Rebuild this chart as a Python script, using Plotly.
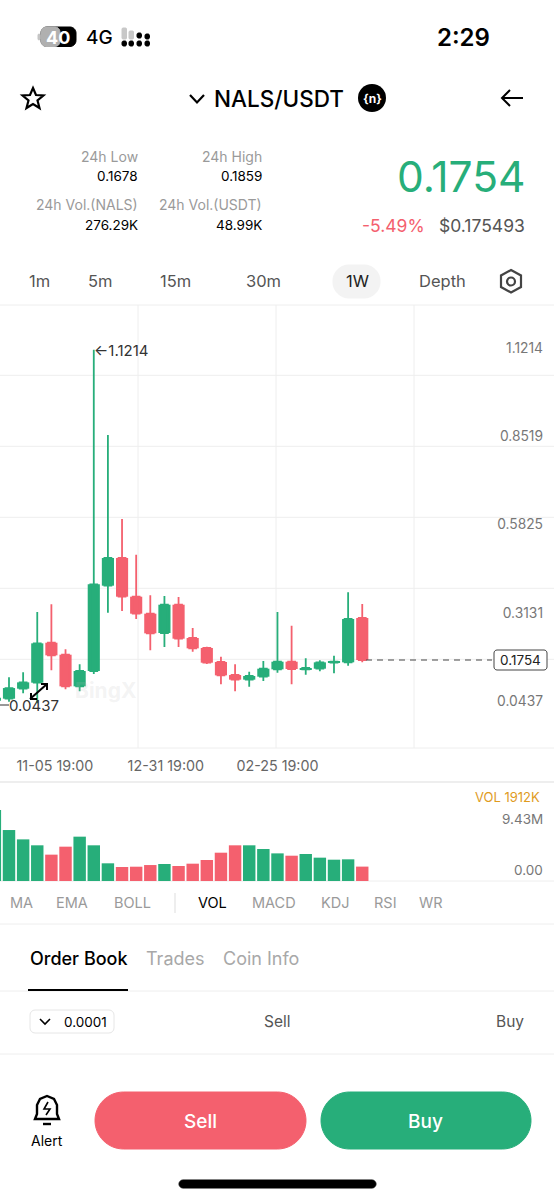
import plotly.graph_objects as go

W, H = 554, 1200
GREEN = "#27ae7a"
RED = "#f4606e"
GRID = "#eeeeee"
FONT = "Inter"

# Weekly candles
candle_idx = list(range(-1, 26))
opens = [0.0513, 0.0574, 0.0879, 0.1062, 0.2282, 0.1916, 0.0950, 0.1418, 0.4021, 0.4865,
         0.3685, 0.3167, 0.2577, 0.3441, 0.2425, 0.2120, 0.1693, 0.1296, 0.1154, 0.1245,
         0.1469, 0.1703, 0.1469, 0.1489, 0.1672, 0.1683, 0.3035]
highs = [0.0737, 0.1225, 0.1378, 0.3218, 0.3452, 0.2079, 0.1621, 1.1214, 0.8616, 0.6054,
         0.4966, 0.3726, 0.3706, 0.3675, 0.2730, 0.2160, 0.1855, 0.1621, 0.1398, 0.1723,
         0.3218, 0.2801, 0.1804, 0.1744, 0.1886, 0.3818, 0.3462]
lows = [0.0450, 0.0483, 0.0737, 0.0437, 0.1439, 0.0859, 0.0798, 0.1327, 0.3197, 0.3248,
        0.3004, 0.2049, 0.2150, 0.2150, 0.2008, 0.1632, 0.1011, 0.0798, 0.0940, 0.1113,
        0.1368, 0.1011, 0.1306, 0.1408, 0.1347, 0.1581, 0.1683]
closes = [0.0605, 0.0899, 0.1072, 0.2262, 0.1896, 0.0950, 0.1418, 0.4062, 0.4865, 0.3685,
          0.3167, 0.2567, 0.3441, 0.2404, 0.2110, 0.1672, 0.1286, 0.1154, 0.1266, 0.1489,
          0.1703, 0.1479, 0.1510, 0.1683, 0.1703, 0.3004, 0.1754]
volumes = [9.43, 6.77, 5.53, 4.74, 3.50, 4.56, 5.89, 4.74, 2.35, 1.86, 1.90, 2.12, 2.26,
           1.99, 2.30, 2.79, 3.76, 4.74, 4.74, 4.25, 3.67, 3.36, 3.59, 3.10, 2.83, 2.88, 1.912]
date_ticks = [3.25, 11.1, 19]
date_labels = ["11-05 19:00", "12-31 19:00", "02-25 19:00"]
price_ticks = [1.1214, 0.8519, 0.5825, 0.3131, 0.0437]
last_price = 0.1754


def px(x):
    return x / W


def py(y):
    return 1 - y / H


def path(*pts, close=False, **kw):
    d = "M" + " L".join(f"{px(x):.5f},{py(y):.5f}" for x, y in pts)
    if close:
        d += " Z"
    return dict(type="path", path=d, xref="paper", yref="paper", **kw)


def line(x0, y0, x1, y1, color=GRID, width=1, layer="below", dash=None):
    return dict(type="line", xref="paper", yref="paper", x0=px(x0), x1=px(x1),
                y0=py(y0), y1=py(y1), layer=layer,
                line=dict(color=color, width=width, dash=dash))


def rrect(x0, y0, x1, y1, r, fill, border=None):
    k = r * 0.45
    d = (f"M{px(x0 + r)},{py(y0)} L{px(x1 - r)},{py(y0)} "
         f"C{px(x1 - k)},{py(y0)} {px(x1)},{py(y0 + k)} {px(x1)},{py(y0 + r)} "
         f"L{px(x1)},{py(y1 - r)} "
         f"C{px(x1)},{py(y1 - k)} {px(x1 - k)},{py(y1)} {px(x1 - r)},{py(y1)} "
         f"L{px(x0 + r)},{py(y1)} "
         f"C{px(x0 + k)},{py(y1)} {px(x0)},{py(y1 - k)} {px(x0)},{py(y1 - r)} "
         f"L{px(x0)},{py(y0 + r)} "
         f"C{px(x0)},{py(y0 + k)} {px(x0 + k)},{py(y0)} {px(x0 + r)},{py(y0)} Z")
    return dict(type="path", path=d, xref="paper", yref="paper", fillcolor=fill,
                line=dict(color=border or fill, width=1), layer="above")


def txt(x, y, s, size=14, color="#000000", anchor="center", weight=400, **kw):
    if anchor == "right":
        x += 1  # annotations keep about a pixel of padding
    return dict(x=px(x), y=py(y), xref="paper", yref="paper", text=s, showarrow=False,
                xanchor=anchor, yanchor="middle", borderpad=0,
                font=dict(family=FONT, size=size, color=color, weight=weight), **kw)


fig = go.Figure()

# wicks come from the candlestick, the bars on top give the wider bodies
fig.add_trace(go.Candlestick(
    x=candle_idx, open=opens, high=highs, low=lows, close=closes,
    increasing=dict(line=dict(color=GREEN, width=1.8), fillcolor=GREEN),
    decreasing=dict(line=dict(color=RED, width=1.8), fillcolor=RED),
    whiskerwidth=0, xaxis="x", yaxis="y", showlegend=False))

bar_colors = [GREEN if c >= o else RED for o, c in zip(opens, closes)]
fig.add_trace(go.Bar(x=candle_idx, y=[abs(c - o) for o, c in zip(opens, closes)],
                     base=[min(o, c) for o, c in zip(opens, closes)],
                     marker_color=bar_colors, marker_line_width=0, width=0.86,
                     xaxis="x", yaxis="y", showlegend=False))
fig.add_trace(go.Bar(x=candle_idx, y=volumes, marker_color=bar_colors, marker_line_width=0,
                     width=0.88, xaxis="x2", yaxis="y2", showlegend=False))

x_range = [-0.637, 38.57]
shapes = []

# chart frame and grid
for y in [375.3, 446.3, 517.3, 588.3, 659.3]:
    shapes.append(line(0, y, W, y))
for x in [138, 276, 414]:
    shapes.append(line(x, 305, x, 748))
for y in [305, 748, 881, 924, 1054]:
    shapes.append(line(0, y, W, y))
shapes.append(line(0, 782, W, 782, width=2))
shapes.append(line(0, 991, W, 991))
shapes.append(line(175, 893, 175, 913, color="#dddddd"))
shapes.append(line(28, 990, 128, 990, color="#000000", width=2, layer="above"))

# last price guide and tag
shapes.append(dict(type="line", xref="paper", yref="y", x0=px(366), x1=px(492),
                   y0=last_price, y1=last_price,
                   line=dict(color="#444444", width=1, dash="6px,5px")))
shapes.append(rrect(494, 650, 547, 670, 3, "#ffffff", border="#444444"))

# high / low pointers
shapes.append(line(30, 699, 47, 684, color="#000000", width=2, layer="above"))
shapes.append(path((41, 684), (47, 684), (47, 690), line=dict(color="#000000", width=2)))
shapes.append(path((31, 693), (31, 699), (37, 699), line=dict(color="#000000", width=2)))
shapes.append(line(0, 705, 9, 705, color="#333333", layer="above"))

# status bar
shapes.append(rrect(41, 27, 76, 46.5, 6, "#000000"))
shapes.append(rrect(41, 27, 60, 46.5, 5, "#b0b0b0"))
shapes.append(rrect(38, 34, 40, 40, 1, "#c4c4c4"))
for x0, y0, y1 in [(122, 28, 39), (129, 31, 39)]:
    shapes.append(rrect(x0, y0, x0 + 4.5, y1, 1, "#c8c8c8"))
for x0, y0, y1 in [(122, 41, 46), (129, 41, 46), (137, 41, 46), (145, 41, 46),
                   (137, 33, 38), (145, 34, 39)]:
    shapes.append(rrect(x0, y0, x0 + 4.5, y1, 1.5, "#000000"))

# header icons
star = [(33, 88), (36, 95), (43.5, 95.5), (37.5, 100.5), (39.5, 108), (33, 104), (26.5, 108),
        (28.5, 100.5), (22.5, 95.5), (30, 95)]
shapes.append(path(*star, close=True, line=dict(color="#000000", width=2.2)))
shapes.append(path((190, 95), (197, 102.5), (204, 95), line=dict(color="#000000", width=2.2)))
shapes.append(dict(type="circle", xref="paper", yref="paper", x0=px(358), x1=px(386),
                   y0=py(84), y1=py(112), fillcolor="#000000", line=dict(width=0)))
shapes.append(path((523, 98), (502, 98), line=dict(color="#000000", width=2)))
shapes.append(path((510, 90), (502, 98), (510, 106), line=dict(color="#000000", width=2)))

# interval tabs
shapes.append(rrect(333, 265, 380, 298, 16, "#f3f3f3"))
hexagon = [(511, 270), (521, 275.5), (521, 287), (511, 292.5), (501, 287), (501, 275.5)]
shapes.append(path(*hexagon, close=True, line=dict(color="#444444", width=2.2)))
shapes.append(dict(type="circle", xref="paper", yref="paper", x0=px(507), x1=px(515),
                   y0=py(277.5), y1=py(285.5), line=dict(color="#444444", width=2.2)))

# order book controls
shapes.append(rrect(30, 1010, 114, 1033, 5, "#ffffff", border="#e6e6e6"))
shapes.append(path((40, 1019), (45, 1024), (50, 1019), line=dict(color="#000000", width=1.6)))

# footer
bell = [(35, 1119), (37, 1114), (37, 1105), (40, 1099), (47, 1096), (54, 1099), (57, 1105),
        (57, 1114), (59, 1119)]
shapes.append(path(*bell, close=True, line=dict(color="#000000", width=2.4)))
shapes.append(path((48, 1102), (44, 1109), (50, 1109), (46, 1115),
                   line=dict(color="#000000", width=1.6)))
shapes.append(path((43, 1124), (51, 1124), line=dict(color="#000000", width=2.4)))
shapes.append(rrect(95, 1092, 306, 1149, 28.5, RED))
shapes.append(rrect(321, 1092, 531, 1149, 28.5, GREEN))
shapes.append(rrect(179, 1180, 376, 1188, 4, "#000000"))

GRAY = "#9a9a9a"
annotations = [
    txt(58, 37, "40", 18, "#ffffff", weight=700),
    txt(99, 37, "4G", 19, weight=500),
    txt(463, 37, "2:29", 24, weight=600),
    txt(213, 98, "NALS/USDT", 22.5, anchor="left", weight=500),
    txt(372, 98, "{n}", 12, "#ffffff", weight=700),
    txt(138, 156, "24h Low", 14, GRAY, "right"),
    txt(138, 176, "0.1678", 13.5, anchor="right"),
    txt(138, 204, "24h Vol.(NALS)", 14, GRAY, "right"),
    txt(138, 225, "276.29K", 13.5, anchor="right"),
    txt(262, 156, "24h High", 14, GRAY, "right"),
    txt(262, 176, "0.1859", 13.5, anchor="right"),
    txt(262, 204, "24h Vol.(USDT)", 14, GRAY, "right"),
    txt(262, 225, "48.99K", 13.5, anchor="right"),
    txt(525.5, 176, "0.1754", 42.5, GREEN, "right"),
    txt(425, 225, "-5.49%", 17.5, RED, "right"),
    txt(525, 225, "$0.175493", 17.5, "#555555", "right"),
    txt(39, 281, "1m", 16.5, "#555555"),
    txt(100, 281, "5m", 16.5, "#555555"),
    txt(175, 281, "15m", 16.5, "#555555"),
    txt(263, 281, "30m", 16.5, "#555555"),
    txt(357, 281, "1W", 16.5, "#222222"),
    txt(442, 281, "Depth", 16.5, "#555555"),
    txt(105, 690, "BingX", 21, "rgba(190,190,190,0.18)", weight=700),
    txt(93, 350, "←1.1214", 15, "#333333", "left"),
    txt(59, 705, "0.0437", 15, "#333333", "right"),
    txt(520.5, 660, "0.1754", 13.5, "#222222"),
    txt(540, 797, "VOL 1912K", 13, "#e09b1e", "right"),
    txt(543, 819, "9.43M", 13.5, "#777777", "right"),
    txt(543, 870, "0.00", 13.5, "#777777", "right"),
    txt(21, 903, "MA", 14.5, GRAY),
    txt(72, 903, "EMA", 14.5, GRAY),
    txt(132, 903, "BOLL", 14.5, GRAY),
    txt(212, 903, "VOL", 14.5, "#000000"),
    txt(274, 903, "MACD", 14.5, GRAY),
    txt(335, 903, "KDJ", 14.5, GRAY),
    txt(385, 903, "RSI", 14.5, GRAY),
    txt(431, 903, "WR", 14.5, GRAY),
    txt(29, 958, "Order Book", 18, anchor="left", weight=500),
    txt(145, 958, "Trades", 18, "#a8a8a8", "left"),
    txt(222, 958, "Coin Info", 18, "#a8a8a8", "left"),
    txt(85.5, 1022, "0.0001", 13.5),
    txt(277, 1021, "Sell", 15.5, "#555555"),
    txt(510, 1021, "Buy", 15.5, "#555555"),
    txt(47, 1140, "Alert", 14),
    txt(200, 1121, "Sell", 19, "#ffffff", weight=500),
    txt(425, 1121, "Buy", 19, "#ffffff", weight=500),
]

fig.update_layout(
    width=W, height=H, margin=dict(l=0, r=0, t=0, b=0, pad=0),
    paper_bgcolor="#ffffff", plot_bgcolor="rgba(0,0,0,0)", showlegend=False,
    font=dict(family=FONT), shapes=shapes, annotations=annotations,
    xaxis=dict(domain=[0, 1], range=x_range, rangeslider=dict(visible=False), showgrid=False,
               zeroline=False, tickmode="array", tickvals=date_ticks, ticktext=date_labels,
               tickfont=dict(size=14.3, color="#666666", family=FONT), ticks="outside",
               ticklen=5, tickcolor="rgba(0,0,0,0)", anchor="y", showline=False),
    yaxis=dict(domain=[py(748), py(305)], range=[-0.0930, 1.2582], side="right", showgrid=False,
               zeroline=False, tickmode="array", tickvals=price_ticks,
               ticktext=[f"{v:.4f}" for v in price_ticks], ticklabelposition="inside",
               tickfont=dict(size=13.8, color="#777777", family=FONT), ticks="",
               ticklabelstandoff=8, ticklabelshift=-2, anchor="x", showline=False),
    xaxis2=dict(domain=[0, 1], range=x_range, visible=False, anchor="y2"),
    yaxis2=dict(domain=[py(881), py(782)], range=[0, 13.15], visible=False, anchor="x2"),
)

fig.write_html("out.html", config={"displayModeBar": False},
               post_script="document.body.style.margin='0';")
